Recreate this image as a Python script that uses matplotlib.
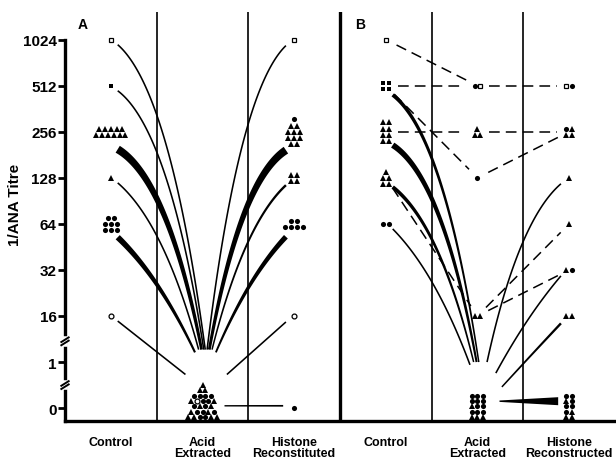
import matplotlib
matplotlib.use('Agg')
import matplotlib.pyplot as plt
import numpy as np

plt.rcParams['font.family'] = ['Liberation Sans', 'DejaVu Sans']
plt.rcParams['font.weight'] = 'bold'

# broken titre axis: 0, 1, then 16 .. 1024 doubling
titres = [0, 1, 16, 32, 64, 128, 256, 512, 1024]
titre_labels = ['0', '1', '16', '32', '64', '128', '256', '512', '1024']
stages_a = ['Control', 'Acid\nExtracted', 'Histone\nReconstituted']
stages_b = ['Control', 'Acid\nExtracted', 'Histone\nReconstructed']

# marker codes: c filled circle, o open circle, t triangle, s filled square, q open square
# groups: (stage, titre, rows of markers from top to bottom)
a_groups = [
    (0, 1024, ['q']), (0, 512, ['s']), (0, 256, ['ttttt', 'tttttt']),
    (0, 128, ['t']), (0, 64, ['cc', 'ccc', 'ccc']), (0, 16, ['o']),
    (1, 0, ['t', 'tt', 'cccc', 'tocct', 'ctct', 'tcctc', 'ttcctt']),
    (2, 1024, ['q']), (2, 256, ['c', 'tt', 'ttt', 'ttt', 'tt']),
    (2, 128, ['tt', 'tt']), (2, 64, ['cc', 'cccc']), (2, 16, ['o']), (2, 0, ['c']),
]
b_groups = [
    (0, 1024, ['q']), (0, 512, ['ss', 'ss']), (0, 256, ['tt', 'tt', 'tt', 'tt']),
    (0, 128, ['t', 'tt', 'tt']), (0, 64, ['cc']),
    (1, 512, ['cq']), (1, 256, ['t', 'tt']), (1, 128, ['c']), (1, 16, ['tt']),
    (1, 0, ['ccc', 'ccc', 'tcc', 'ccc', 'ttt']),
    (2, 512, ['qc']), (2, 256, ['ct', 'tt']), (2, 128, ['t']), (2, 64, ['t']),
    (2, 32, ['tc']), (2, 16, ['tt']), (2, 0, ['cc', 'tc', 'cc', 'ct', 'tt']),
]

# links: (from stage, from titre, to stage, to titre, patients, dashed)
a_links = [
    (0, 1024, 1, 0, 1, False), (0, 512, 1, 0, 1, False), (0, 256, 1, 0, 10, False),
    (0, 128, 1, 0, 1, False), (0, 64, 1, 0, 7, False), (0, 16, 1, 0, 1, False),
    (1, 0, 2, 1024, 1, False), (1, 0, 2, 256, 10, False), (1, 0, 2, 128, 2, False),
    (1, 0, 2, 64, 6, False), (1, 0, 2, 16, 1, False), (1, 0, 2, 0, 1, False),
]
b_links = [
    (0, 1024, 1, 512, 1, True), (0, 512, 1, 512, 1, True), (0, 512, 1, 128, 1, True),
    (0, 256, 1, 256, 1, True), (0, 128, 1, 16, 1, True),
    (0, 512, 1, 0, 4, False), (0, 256, 1, 0, 7, False), (0, 128, 1, 0, 4, False),
    (0, 64, 1, 0, 1, False),
    (1, 512, 2, 512, 1, True), (1, 256, 2, 256, 1, True), (1, 128, 2, 256, 1, True),
    (1, 16, 2, 64, 1, True), (1, 16, 2, 32, 1, True),
    (1, 0, 2, 128, 1, False), (1, 0, 2, 32, 1, False), (1, 0, 2, 16, 2, False),
    (1, 0, 2, 0, 10, False),
]


def level(t):
    if t <= 1:
        return float(t)
    return np.log2(t) - 2


fig = plt.figure(figsize=(6.16, 4.6), dpi=100)
ax = fig.add_axes([65 / 616, 38 / 460, 550 / 616, 409 / 460])
ax.set_xlim(0, 6)
ax.set_ylim(-0.28, 8.6)

PX_X = 6 / 550.0   # data units per pixel
PX_Y = 8.88 / 409.0

# separators
for xv in [1, 2, 4, 5]:
    ax.axvline(xv, color='black', lw=1.2, zorder=1)
ax.axvline(3, color='black', lw=2.4, zorder=1)

MARK = {'c': ('o', True, 3.7), 'o': ('o', False, 3.5), 't': ('^', True, 4.1),
        's': ('s', True, 3.3), 'q': ('s', False, 3.2)}


def draw_groups(groups, panel):
    for stage, titre, rows in groups:
        xc = panel * 3 + stage + 0.5
        nr = len(rows)
        gap = 5.3 if titre == 0 else 6.2
        if titre == 0 and nr > 1:
            y_top = -0.19 + (nr - 1) * gap * PX_Y
        else:
            y_top = level(titre) + (nr - 1) * gap / 2 * PX_Y
        for i, row in enumerate(rows):
            y = y_top - i * gap * PX_Y
            for j, code in enumerate(row):
                x = xc + (j - (len(row) - 1) / 2) * 5.8 * PX_X
                m, filled, ms = MARK[code]
                ax.plot(x, y, marker=m, ms=ms, mec='black', mew=0 if filled else 0.9,
                        mfc='black' if filled else 'white', zorder=5, clip_on=False)


def width_px(n):
    return 1.0 + 0.7 * n


def draw_links(links, panel, apex, flat):
    to_px = ax.transData.transform
    to_data = ax.transData.inverted().transform
    for s0, t0, s1, t1, n, dashed in links:
        x0 = panel * 3 + s0 + 0.5
        x1 = panel * 3 + s1 + 0.5
        l0, l1 = level(t0), level(t1)
        if dashed:
            p0, p1 = to_px((x0, l0)), to_px((x1, l1))
            d = (p1 - p0) / np.hypot(*(p1 - p0))
            a, b = to_data(p0 + 12 * d), to_data(p1 - 12 * d)
            ax.plot([a[0], b[0]], [a[1], b[1]], color='black', lw=1.1,
                    dashes=(7, 4), zorder=3)
            continue
        w = width_px(n)
        if t0 == 0 and t1 == 0:
            pa = to_px((x0 + 0.24, flat))
            pb = to_px((x1 - 0.12, flat))
            tt = np.linspace(0, 1, 2)
            pts = pa + np.outer(tt, pb - pa)
            wid = 1.4 + (w - 1.4) * tt
        else:
            # marker end and acid-extracted end
            if t1 == 0:
                hi = np.array([x0 + 0.075, l0 - (0.08 + 0.03 * n)])
                lv, side = l0, -1
            else:
                hi = np.array([x1 - 0.09, l1 - (0.1 + 0.03 * n)])
                lv, side = l1, 1
            xa = 0.5 + panel * 3 + 1
            k = 8 - lv
            if side < 0:
                ex = xa + 0.03 - 0.004 * k ** 2 - 0.012 * k
            else:
                ex = xa + 0.05 + 0.006 * k ** 2
            ey = apex - 0.06 * max(0, 5 - lv) ** 2
            ph, pl = to_px(hi), to_px((ex, ey))
            s = np.clip((lv - ey - 1.5) / 3, 0, 1)
            ca, cb = 0.5 + 0.1 * s, 0.5 - 0.35 * s
            pc = ph + np.array([ca * (pl[0] - ph[0]), cb * (pl[1] - ph[1])])
            tt = np.linspace(0, 1, 80)[:, None]
            pts = (1 - tt) ** 2 * ph + 2 * tt * (1 - tt) * pc + tt ** 2 * pl
            tt = tt[:, 0]
            wid = w + (max(1.5, 0.35 * w) - w) * tt if n > 1 else np.full_like(tt, 1.6)
        tan = np.gradient(pts, axis=0)
        tan /= np.hypot(tan[:, 0], tan[:, 1])[:, None]
        nor = np.column_stack([-tan[:, 1], tan[:, 0]])
        left = pts + nor * wid[:, None] / 2
        right = pts - nor * wid[:, None] / 2
        poly = to_data(np.vstack([left, right[::-1]]))
        ax.fill(poly[:, 0], poly[:, 1], color='black', lw=0, zorder=3)


draw_links(a_links, 0, 1.27, 0.05)
draw_links(b_links, 1, 1.0, 0.15)
draw_groups(a_groups, 0)
draw_groups(b_groups, 1)

# axes styling
for side in ['top', 'right']:
    ax.spines[side].set_visible(False)
ax.spines['left'].set_linewidth(2.4)
ax.spines['bottom'].set_linewidth(2.4)
ax.spines['left'].set_bounds(-0.28, 8)
ax.set_yticks([level(t) for t in titres])
ax.set_yticklabels(titre_labels)
ax.tick_params(axis='y', direction='out', length=5, width=2, labelsize=11, pad=1)
ax.set_xticks([])
ax.set_ylabel('1/ANA Titre', fontsize=11, fontweight='bold')
ax.yaxis.set_label_coords(-0.078, 0.53)

# axis breaks
for yb in [1.45, 0.5]:
    ax.plot([0, 0], [yb - 0.05, yb + 0.05], color='white', lw=4, zorder=6, clip_on=False)
    for off in [-0.035, 0.035]:
        ax.plot([-0.04, 0.04], [yb + off - 0.05, yb + off + 0.05], color='black',
                lw=1.4, zorder=7, clip_on=False)

for panel, labels in enumerate([stages_a, stages_b]):
    for stage, lab in enumerate(labels):
        ax.annotate(lab, xy=(panel * 3 + stage + 0.5, 0), xycoords=('data', 'axes fraction'),
                    xytext=(0, -10.5), textcoords='offset points', ha='center', va='top',
                    fontsize=9, fontweight='bold', linespacing=0.95)

ax.text(0.19, 8.35, 'A', fontsize=10, fontweight='bold', ha='center', va='center')
ax.text(3.22, 8.35, 'B', fontsize=10, fontweight='bold', ha='center', va='center')

fig.savefig('out.png', dpi=100)
